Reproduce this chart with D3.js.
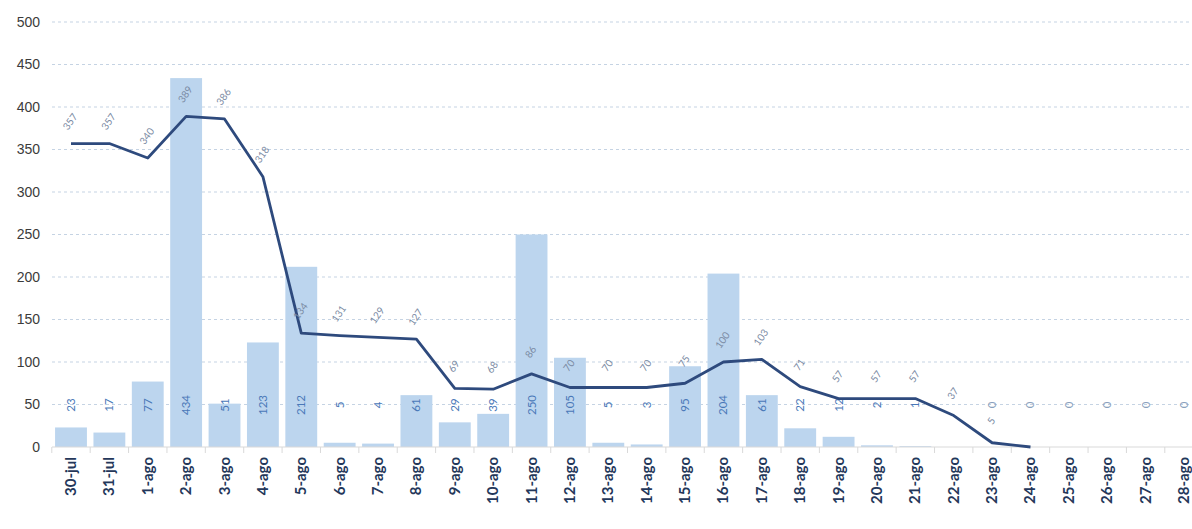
<!DOCTYPE html>
<html lang="es">
<head>
  <meta charset="UTF-8">
  <title>Casos por día</title>
  <script src="https://d3js.org/d3.v7.min.js"></script>
  <style>
    body { margin: 0; background: #fff; }
    svg { display: block; font-family: Lato, "Open Sans", sans-serif; }
  </style>
</head>
<body>
  <div id="chart"></div>
  <script>

  // data
  const days = ["30-jul", "31-jul", "1-ago", "2-ago", "3-ago", "4-ago", "5-ago", "6-ago",
    "7-ago", "8-ago", "9-ago", "10-ago", "11-ago", "12-ago", "13-ago", "14-ago", "15-ago",
    "16-ago", "17-ago", "18-ago", "19-ago", "20-ago", "21-ago", "22-ago", "23-ago",
    "24-ago", "25-ago", "26-ago", "27-ago", "28-ago"];
  const barValues = [23, 17, 77, 434, 51, 123, 212, 5, 4, 61, 29, 39, 250, 105, 5, 3, 95,
    204, 61, 22, 12, 2, 1, 0, 0, 0, 0, 0, 0, 0];
  const lineValues = [357, 357, 340, 389, 386, 318, 134, 131, 129, 127, 69, 68, 86, 70, 70,
    70, 75, 100, 103, 71, 57, 57, 57, 37, 5, 0, null, null, null, null];
  const yTicks = [0, 50, 100, 150, 200, 250, 300, 350, 400, 450, 500];

  const width = 1192;
  const height = 529;
  const margin = {top: 22, left: 52, right: -11, bottom: 82};
  const plotWidth = width - margin.left - margin.right;
  const plotHeight = height - margin.top - margin.bottom;

  const svg = d3.select("#chart")
              .append("svg")
                .attr("width", width)
                .attr("height", height)
              .append("g")
                .attr("transform", "translate(" + margin.left + "," + margin.top + ")");

  const x = d3.scaleBand()
                .domain(days)
                .range([0, plotWidth])
                .paddingInner(0.17)
                .paddingOuter(0.08);

  const y = d3.scaleLinear()
                .domain([0, 500])
                .range([plotHeight, 0]);

  // dotted grid lines
  svg.append("g")
      .selectAll("line")
      .data(yTicks.filter(d => d > 0))
      .enter()
      .append("line")
        .attr("x1", 0)
        .attr("x2", plotWidth)
        .attr("y1", d => y(d))
        .attr("y2", d => y(d))
        .style("stroke", "#c5d3e3")
        .style("stroke-width", 1.2)
        .style("stroke-dasharray", "3,3");

  // y axis (labels only)
  const yAxis = svg.append("g")
      .call(d3.axisLeft(y).tickValues(yTicks).tickSize(0).tickPadding(12));
  yAxis.select(".domain").remove();
  yAxis.selectAll("text")
      .style("font-size", "14px")
      .style("fill", "#3b3b3b");

  // bars
  svg.append("g")
      .selectAll("rect")
      .data(days)
      .enter()
      .append("rect")
        .attr("x", d => x(d))
        .attr("width", x.bandwidth())
        .attr("y", (d, i) => y(barValues[i]))
        .attr("height", (d, i) => plotHeight - y(barValues[i]))
        .style("fill", "#bcd5ee");

  // x axis with ticks between categories
  const xAxis = svg.append("g")
      .attr("transform", "translate(0," + plotHeight + ")");
  xAxis.append("line")
      .attr("x1", 0)
      .attr("x2", plotWidth)
      .style("stroke", "#d9d9d9")
      .style("stroke-width", 1.2);
  xAxis.selectAll(".sep")
      .data(days)
      .enter()
      .append("line")
        .attr("class", "sep")
        .attr("x1", d => x(d) - x.step() * x.paddingInner() / 2)
        .attr("x2", d => x(d) - x.step() * x.paddingInner() / 2)
        .attr("y1", 0)
        .attr("y2", 6)
        .style("stroke", "#d9d9d9");
  xAxis.selectAll("text")
      .data(days)
      .enter()
      .append("text")
        .attr("transform", d => "translate(" + (x(d) + x.bandwidth() / 2 + 5) + ",10) rotate(-90)")
        .attr("text-anchor", "end")
        .style("font-size", "15px")
        .style("font-weight", "bold")
        .style("fill", "#24375a")
        .text(d => d);

  // bar value labels near the base
  svg.append("g")
      .selectAll("text")
      .data(days)
      .enter()
      .append("text")
        .attr("transform", d => "translate(" + (x(d) + x.bandwidth() / 2 + 4) + "," + (plotHeight - 42) + ") rotate(-90)")
        .attr("text-anchor", "middle")
        .style("font-size", "11.5px")
        .style("fill", (d, i) => barValues[i] > 0 ? "#4a78b8" : "#8aa0bd")
        .text((d, i) => (days[i] === "22-ago") ? "" : barValues[i]);

  // line
  const pts = days.map((d, i) => ({d: d, v: lineValues[i]})).filter(p => p.v !== null);
  const line = d3.line()
      .x(p => x(p.d) + x.bandwidth() / 2)
      .y(p => y(p.v));
  svg.append("path")
      .datum(pts)
      .attr("d", line)
      .style("fill", "none")
      .style("stroke", "#2e4a7d")
      .style("stroke-width", 2.8)
      .style("stroke-linejoin", "round");

  // line value labels
  svg.append("g")
      .selectAll("text")
      .data(pts.filter(p => p.d !== "24-ago"))
      .enter()
      .append("text")
        .attr("transform", p => "translate(" + (x(p.d) + x.bandwidth() / 2 + 2) + "," + (y(p.v) - 20) + ") rotate(-55)")
        .attr("text-anchor", "middle")
        .style("font-size", "10px")
        .style("fill", "#7a8aa3")
        .text(p => p.v);

  </script>
</body>
</html>
